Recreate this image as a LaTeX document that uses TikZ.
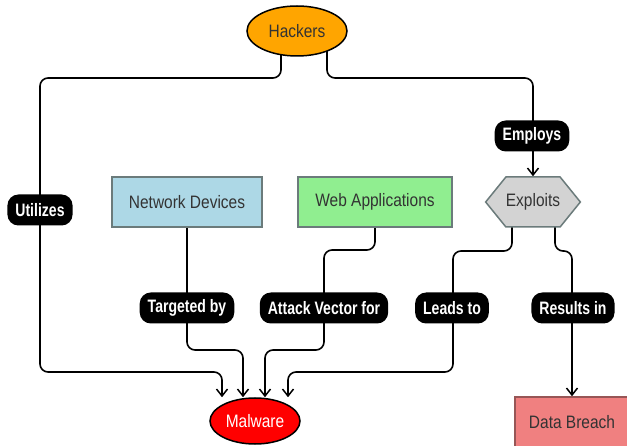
\documentclass[tikz,border=0pt]{standalone}
\usepackage{fontspec}
\setmainfont{Liberation Sans}
\newfontfamily\nodefont{Liberation Sans}[FakeStretch=0.86]
\newfontfamily\lblfont{Liberation Sans}[FakeStretch=0.78]
\usetikzlibrary{shapes.geometric,shapes.symbols,arrows.meta,backgrounds}
\definecolor{hackorange}{HTML}{FFA500}
\definecolor{netblue}{HTML}{ADD8E6}
\definecolor{webgreen}{HTML}{90EE90}
\definecolor{exgray}{HTML}{D3D3D3}
\definecolor{breachred}{HTML}{F08080}
\definecolor{txtgray}{HTML}{333333}
\definecolor{bordergray}{HTML}{6B7B7B}
\tikzset{
  x=1pt, y=-1pt,
  base/.style={font=\nodefont\fontsize{18}{21}\selectfont, text=txtgray, line width=1.5pt, inner sep=0pt},
  ell/.style={base, ellipse, draw=black},
  boxnode/.style={base, rectangle, draw=bordergray},
  lbl/.style={fill=black, text=white, rounded corners=11pt, minimum height=31pt, inner xsep=8pt, inner ysep=0pt,
     font=\lblfont\bfseries\fontsize{18}{21}\selectfont},
  conn/.style={line width=1.6pt, rounded corners=8pt},
  arr/.style={conn, -{Straight Barb[length=7pt,width=11pt,line width=1.5pt]}},
}
\begin{document}
\begin{tikzpicture}
\useasboundingbox (0,0) rectangle (627,446);
% nodes
\node[ell, fill=hackorange, minimum width=100pt, minimum height=50pt] (hackers) at (297,31) {Hackers};
\node[boxnode, fill=netblue, minimum width=150pt, minimum height=50pt] (netdev) at (187,202) {Network Devices};
\node[boxnode, fill=webgreen, minimum width=154pt, minimum height=50pt] (webapp) at (375,202) {Web Applications};
\node[base, signal, signal to=west and east, signal pointer angle=102, draw=bordergray, fill=exgray,
      minimum width=86pt, minimum height=50pt] (exploits) at (533,202) {Exploits};
\node[ell, fill=red, text=white, minimum width=90pt, minimum height=46pt] (malware) at (255,421) {Malware};
\node[boxnode, fill=breachred, draw=bordergray!70!red, minimum width=114pt, minimum height=50pt] (breach) at (572,422) {Data Breach};
% connectors
\begin{scope}[on background layer]
\draw[arr] ([xshift=-16pt]hackers.center) -- (281,78) -- (40,78) -- (40,372) -- (222,372) -- ([xshift=-33pt]malware.north);
\draw[arr] ([xshift=30pt]hackers.center) -- (327,78) -- (533,78) -- (exploits.north);
\draw[arr] (netdev.center) -- (187,350) -- (243,350) -- ([xshift=-12pt]malware.north);
\draw[arr] (webapp.center) -- (375,250) -- (324,250) -- (324,350) -- (265,350) -- ([xshift=10pt]malware.north);
\draw[arr] ([xshift=-21pt]exploits.center) -- (512,251) -- (453,251) -- (453,372) -- (288,372) -- ([xshift=33pt]malware.north);
\draw[arr] ([xshift=22pt]exploits.center) -- (555,251) -- (572,251) -- (breach.north);
\end{scope}
% labels
\node[lbl] (utilizes) at (40,210) {Utilizes};
\node[lbl] (employs) at (532,136) {Employs};
\node[lbl] (targeted) at (187,308) {Targeted by};
\node[lbl] (attack) at (324,308) {Attack Vector for};
\node[lbl] (leads) at (452,308) {Leads to};
\node[lbl] (results) at (573,308) {Results in};
\end{tikzpicture}
\end{document}
